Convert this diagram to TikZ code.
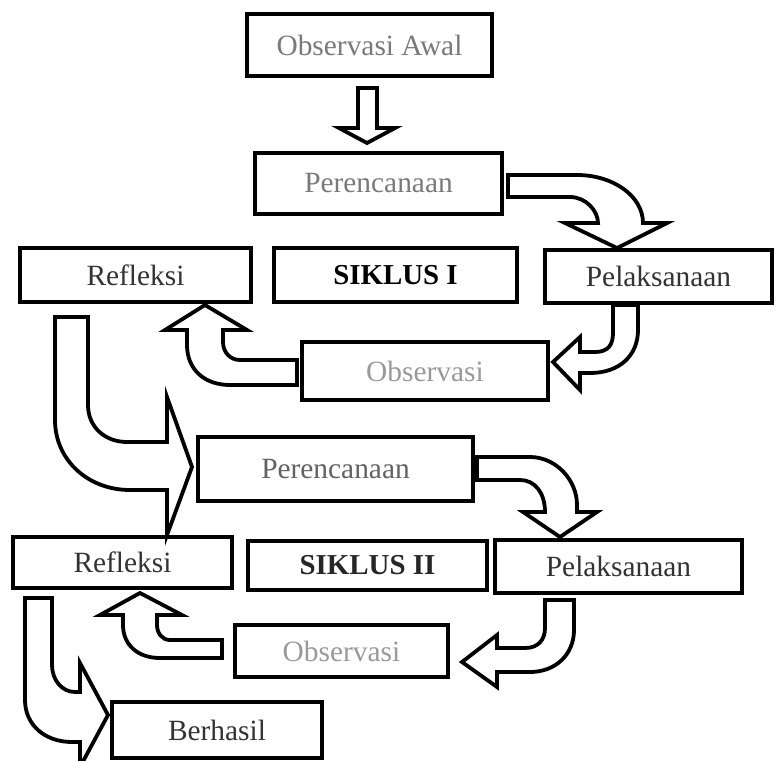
\documentclass[tikz,border=0pt]{standalone}
\usepackage{fontspec}
\setmainfont{Liberation Serif}
\definecolor{tg1}{HTML}{7A7A7A}
\definecolor{tg2}{HTML}{9A9A9A}
\definecolor{tg3}{HTML}{333333}
\tikzset{
  box/.style={draw=black, line width=4bp, fill=white, inner sep=0pt, rectangle,
    font=\fontsize{29.5}{31}\selectfont, text=tg3},
  blockarrow/.style={draw=black, line width=3.8bp, fill=white, line join=miter},
}
\begin{document}
\begin{tikzpicture}[x=1bp, y=-1bp]
\useasboundingbox (0,0) rectangle (780,761);
\fill[white] (0,0) rectangle (780,761);

% nodes
\node[box, minimum width=245bp, minimum height=62bp, text=tg1] (oa) at (369.5,45) {Observasi Awal};
\node[box, minimum width=247bp, minimum height=61bp, text=tg1] (p1) at (378.5,183.5) {Perencanaan};
\node[box, minimum width=231bp, minimum height=54bp] (r1) at (135.5,275) {Refleksi};
\node[box, minimum width=243bp, minimum height=54bp, text=black, font=\fontsize{29}{31}\selectfont\bfseries] (s1) at (395.5,275) {SIKLUS I};
\node[box, minimum width=227bp, minimum height=53bp] (l1) at (658.5,276.5) {Pelaksanaan};
\node[box, minimum width=246bp, minimum height=58bp, text=tg2] (o1) at (425,371) {Observasi};
\node[box, minimum width=275bp, minimum height=64bp, text=tg1!80!black] (p2) at (335.5,469) {Perencanaan};
\node[box, minimum width=219bp, minimum height=51bp] (r2) at (122.5,562.5) {Refleksi};
\node[box, minimum width=239bp, minimum height=49bp, text=black!85, font=\fontsize{29}{31}\selectfont\bfseries] (s2) at (367.5,565.5) {SIKLUS II};
\node[box, minimum width=247bp, minimum height=53bp] (l2) at (618.5,566.5) {Pelaksanaan};
\node[box, minimum width=213bp, minimum height=52bp, text=tg2] (o2) at (341.5,651) {Observasi};
\node[box, minimum width=210bp, minimum height=56bp] (b) at (217,730) {Berhasil};

% oa -> p1
\draw[blockarrow] (358,88) -- (377,88) -- (377,128) -- (395,128) -- (367,143) -- (339,128) -- (358,128) -- cycle;

% p1 -> l1
\draw[blockarrow] (508,175) -- (577,175) .. controls (613,175) and (643,196) .. (643,223)
  -- (667,223) -- (617,248) -- (565,223) -- (598,223)
  .. controls (598,211) and (586,197) .. (570,197) -- (508,197) -- cycle;

% l1 -> o1
\draw[blockarrow] (613,305) -- (638,305) -- (638,330) .. controls (638,355) and (620,373) .. (590,373)
  -- (580,373) -- (580,390) -- (553,362) -- (580,337) -- (580,352) -- (595,352)
  .. controls (608,352) and (613,345) .. (613,333) -- cycle;

% o1 -> r1
\draw[blockarrow] (297,360) -- (240,360) .. controls (230,360) and (223,352) .. (223,342)
  -- (223,330) -- (247,330) -- (205,305) -- (165,330) -- (187,330) -- (187,345)
  .. controls (187,370) and (205,385) .. (230,385) -- (297,385) -- cycle;

% r1 -> p2
\draw[blockarrow] (55,317) -- (88,317) -- (88,405) .. controls (88,427) and (105,442) .. (127,442)
  -- (167,442) -- (167,397) -- (192,467) -- (167,535) -- (167,490) -- (130,490)
  .. controls (88,490) and (55,460) .. (55,420) -- cycle;

% p2 -> l2
\draw[blockarrow] (477,457) -- (530,457) .. controls (556,457) and (577,480) .. (577,505)
  -- (577,512) -- (597,512) -- (560,537) -- (523,512) -- (545,512)
  .. controls (545,493) and (535,480) .. (520,480) -- (477,480) -- cycle;

% l2 -> o2
\draw[blockarrow] (545,600) -- (574,600) -- (574,630) .. controls (574,655) and (555,672) .. (530,672)
  -- (497,672) -- (497,687) -- (462,662) -- (497,635) -- (497,648) -- (525,648)
  .. controls (538,648) and (545,640) .. (545,628) -- cycle;

% o2 -> r2
\draw[blockarrow] (222,640) -- (170,640) .. controls (162,640) and (157,633) .. (157,625)
  -- (157,615) -- (182,615) -- (140,593) -- (100,615) -- (123,615) -- (123,625)
  .. controls (123,645) and (138,658) .. (160,658) -- (222,658) -- cycle;

% r2 -> b
\draw[blockarrow] (25,598) -- (52,598) -- (52,665) .. controls (52,680) and (62,692) .. (75,692)
  -- (80,692) -- (80,663) -- (108,715) -- (80,767) -- (80,742) -- (72,742)
  .. controls (45,742) and (25,725) .. (25,700) -- cycle;
\end{tikzpicture}
\end{document}
